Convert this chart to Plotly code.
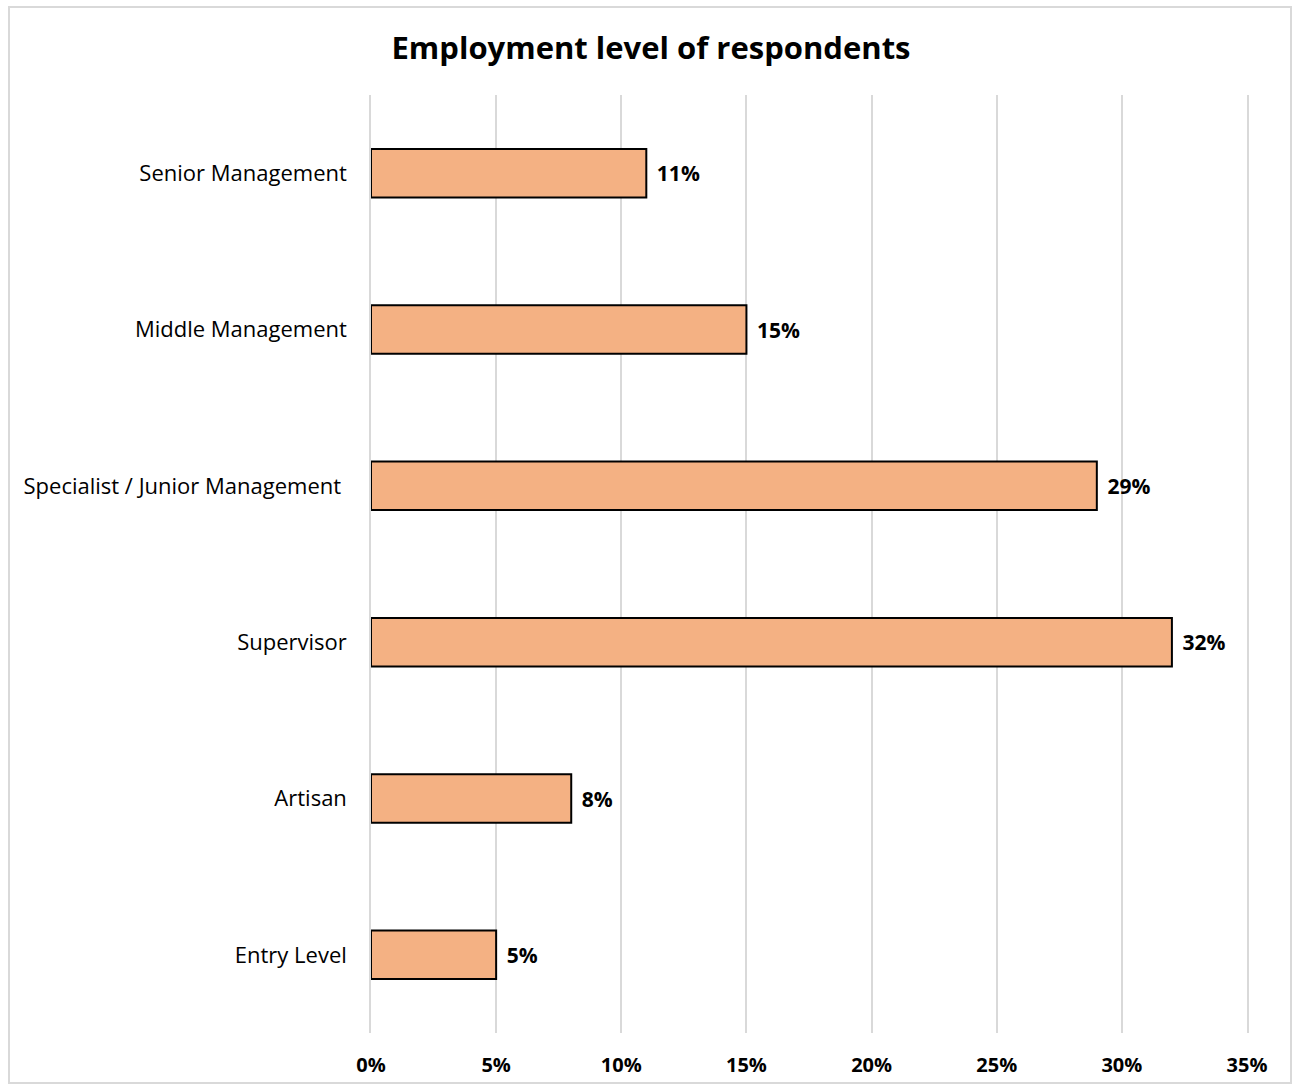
import plotly.graph_objects as go

categories = ["Senior Management", "Middle Management", "Specialist / Junior Management ",
              "Supervisor", "Artisan", "Entry Level"]
values = [11, 15, 29, 32, 8, 5]
tick_vals = [0, 5, 10, 15, 20, 25, 30, 35]
tick_text = ["0%", "5%", "10%", "15%", "20%", "25%", "30%", "35%"]

FONT = "'Open Sans', Lato, sans-serif"
GRID = "#D9D9D9"

fig = go.Figure()
fig.add_trace(go.Bar(
    y=categories, x=values, orientation="h",
    marker=dict(color="#F4B183", line=dict(color="black", width=2)),
    width=0.31,
    text=[f"\u00a0\u200a{v}%" for v in values],
    textposition="outside", cliponaxis=False,
    textfont=dict(family=FONT, size=21, color="black", weight="bold"),
    hoverinfo="skip",
))

fig.update_layout(
    width=1296, height=1085,
    margin=dict(l=371, r=49, t=95, b=52),
    paper_bgcolor="white", plot_bgcolor="white",
    showlegend=False,
    title=dict(text="<b>Employment level of respondents</b>", x=651 / 1296, xanchor="center",
               y=1 - 48 / 1085, yanchor="middle",
               font=dict(family=FONT, size=31, color="black")),
    xaxis=dict(range=[0, 35], tickvals=tick_vals, ticktext=tick_text,
               showgrid=True, gridcolor=GRID, gridwidth=1.5,
               zeroline=False, showline=False, ticks="", automargin=False,
               ticklabelstandoff=18,
               tickfont=dict(family=FONT, size=20, color="black", weight="bold")),
    yaxis=dict(categoryorder="array", categoryarray=categories, autorange="reversed",
               showgrid=False, zeroline=False, showline=True, mirror=True,
               linecolor=GRID, linewidth=1.5, ticks="", automargin=False,
               ticklabelstandoff=18,
               tickfont=dict(family=FONT, size=22, color="black")),
    shapes=[dict(type="rect", xref="paper", yref="paper",
                 x0=(9 - 371) / 876, x1=(1291 - 371) / 876,
                 y0=(1033 - 1083) / 938, y1=(1033 - 7) / 938,
                 line=dict(color=GRID, width=2), layer="below")],
)

fig.write_html("out.html")
